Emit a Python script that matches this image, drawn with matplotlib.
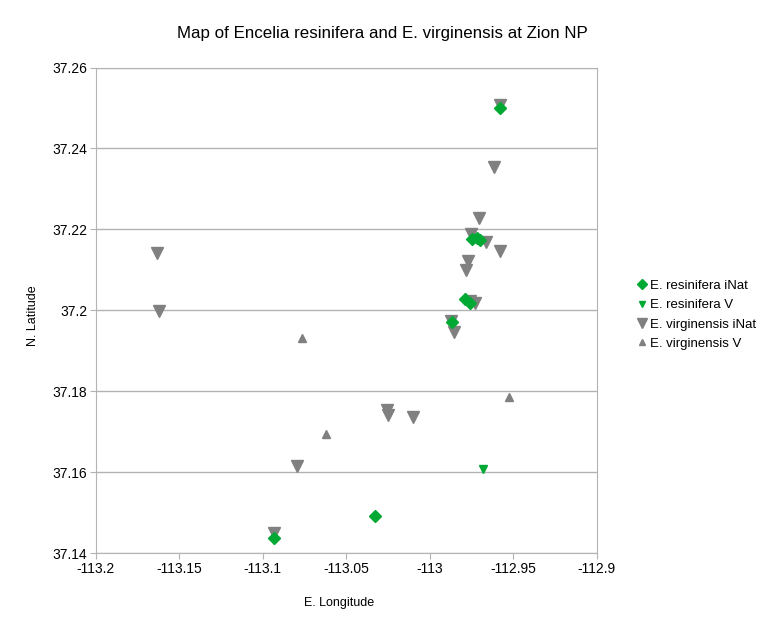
import numpy as np
import matplotlib
matplotlib.use("Agg")
import matplotlib.pyplot as plt

# E. resinifera iNat observations (lon, lat)
res_inat_lon = [-112.9578, -112.9746, -112.9716, -112.9698, -112.9787, -112.9758,
                -112.9863, -113.0325, -113.0931]
res_inat_lat = [37.2500, 37.2177, 37.2180, 37.2174, 37.2028, 37.2019,
                37.1972, 37.1493, 37.1438]

# E. resinifera voucher
res_v_lon = [-112.9678]
res_v_lat = [37.1609]

# E. virginensis iNat observations
vir_inat_lon = [-112.9578, -112.9612, -112.9702, -112.9751, -112.9662, -112.9578,
                -112.9771, -112.9781, -112.9728, -112.9760, -112.9871, -112.9853,
                -113.1632, -113.1620, -113.0256, -113.0250, -113.0101, -113.0792,
                -113.0931]
vir_inat_lat = [37.2507, 37.2354, 37.2228, 37.2188, 37.2168, 37.2148,
                37.2121, 37.2100, 37.2018, 37.2024, 37.1974, 37.1947,
                37.2142, 37.1999, 37.1754, 37.1742, 37.1736, 37.1616,
                37.1450]

# E. virginensis voucher
vir_v_lon = [-113.0765, -113.0618, -112.9522]
vir_v_lat = [37.1931, 37.1694, 37.1786]

xticks = [-113.2, -113.15, -113.1, -113.05, -113, -112.95, -112.9]
xticklabels = ["-113.2", "-113.15", "-113.1", "-113.05", "-113", "-112.95", "-112.9"]
yticks = [37.14, 37.16, 37.18, 37.2, 37.22, 37.24, 37.26]
yticklabels = ["37.14", "37.16", "37.18", "37.2", "37.22", "37.24", "37.26"]

green = "#00a933"
grey = "#808080"

plt.rcParams["font.family"] = ["Liberation Sans", "DejaVu Sans"]

fig = plt.figure(figsize=(7.64, 6.27), dpi=100)
ax = fig.add_axes([0.125, 0.1175, 0.6558, 0.7748])

ax.plot(vir_inat_lon, vir_inat_lat, "v", color=grey, markersize=9, linestyle="none",
        label="E. virginensis iNat", zorder=3)
ax.plot(vir_v_lon, vir_v_lat, "^", color=grey, markersize=5.5, linestyle="none",
        label="E. virginensis V", zorder=3)
ax.plot(res_inat_lon, res_inat_lat, "D", color=green, markersize=6, linestyle="none",
        label="E. resinifera iNat", zorder=4)
ax.plot(res_v_lon, res_v_lat, "v", color=green, markersize=5.5, linestyle="none",
        label="E. resinifera V", zorder=4)

ax.set_xlim(-113.2, -112.9)
ax.set_ylim(37.14, 37.26)
ax.set_xticks(xticks)
ax.set_xticklabels(xticklabels)
ax.set_yticks(yticks)
ax.set_yticklabels(yticklabels)
ax.tick_params(direction="out", length=4, color="#b3b3b3", labelsize=10, pad=2)
ax.yaxis.grid(True, color="#b3b3b3", linewidth=1)
ax.set_axisbelow(True)
for s in ax.spines.values():
    s.set_color("#b3b3b3")

ax.set_xlabel("E. Longitude", fontsize=9)
ax.set_ylabel("N. Latitude", fontsize=9)
ax.xaxis.set_label_coords(0.487, -0.09)
ax.yaxis.set_label_coords(-0.112, 0.49)
fig.text(0.5, 0.947, "Map of Encelia resinifera and E. virginensis at Zion NP",
         ha="center", va="center", fontsize=12.2)

h, l = ax.get_legend_handles_labels()
order = [2, 3, 0, 1]
fig.legend([h[i] for i in order], [l[i] for i in order], loc="center left",
           bbox_to_anchor=(0.82, 0.498), frameon=False, fontsize=9.5,
           handlelength=0.6, handletextpad=0.25, labelspacing=0.55, markerscale=0.85)

fig.savefig("out.png", dpi=100)
